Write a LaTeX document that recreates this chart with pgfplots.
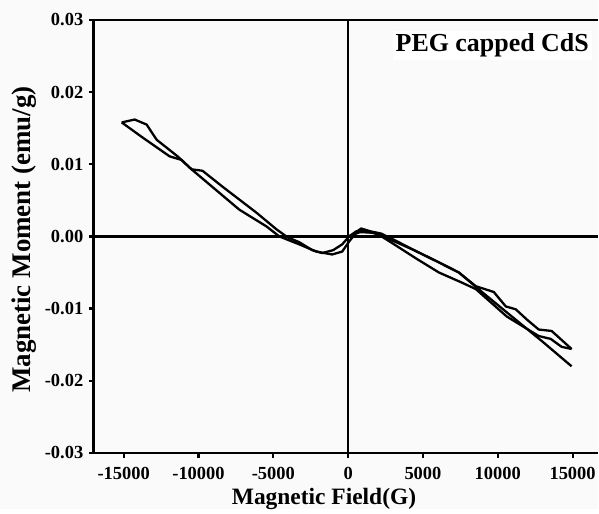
\documentclass[border=0pt]{standalone}
\usepackage{fontspec}
\setmainfont{Liberation Serif}
\usepackage{pgfplots}
\pgfplotsset{compat=1.18}
\begin{document}
\begin{tikzpicture}
\fill[black!2] (-94pt,-56pt) rectangle (505pt,454pt);
\begin{axis}[
  at={(0,0)}, anchor=south west,
  scale only axis, width=505pt, height=434pt,
  xmin=-17000, xmax=16667, ymin=-0.03, ymax=0.03,
  axis x line*=box, axis y line*=left,
  scaled x ticks=false, scaled y ticks=false,
  xtick={-15000,-10000,-5000,0,5000,10000,15000},
  xticklabels={-15000,-10000,-5000,0,5000,10000,15000},
  ytick={-0.03,-0.02,-0.01,0,0.01,0.02,0.03},
  yticklabels={-0.03,-0.02,-0.01,0.00,0.01,0.02,0.03},
  xtick pos=bottom, ytick pos=left,
  tick align=outside, major tick length=5pt,
  axis line style={line width=2.6pt},
  every tick/.style={line width=2.2pt, black},
  tick label style={font=\fontsize{18.5}{20}\selectfont\bfseries},
  xticklabel style={yshift=-6pt},
  yticklabel style={xshift=-2pt},
  xlabel={Magnetic Field(G)},
  ylabel={Magnetic Moment (emu/g)},
  xlabel style={at={(axis description cs:0.457,0)}, anchor=base, yshift=-52pt, font=\fontsize{23.5}{26}\selectfont\bfseries},
  ylabel style={at={(axis description cs:-0.1248,0.493)}, anchor=base, font=\fontsize{27}{29}\selectfont\bfseries},
  clip=false,
]
\addplot[black, line width=2.3pt] coordinates {(-17000,0) (16667,0)};
\addplot[black, line width=2.3pt] coordinates {(0,-0.03) (0,0.03)};
% initial branch
\addplot[black, line width=2.3pt, line join=round] coordinates {
(0,0) (800,0.0006) (1800,0.0005) (3000,-0.0006) (4500,-0.0020) (6067,-0.0036)
(7400,-0.0050) (9000,-0.0078) (11000,-0.0112) (13000,-0.0146) (14933,-0.0180)};
% branch P
\addplot[black, line width=2.3pt, line join=round] coordinates {
(-15133,0.0158) (-14267,0.0162) (-13467,0.0155) (-12800,0.0134) (-11400,0.0111)
(-10467,0.0093) (-9267,0.0072) (-7267,0.0037) (-5467,0.0014) (-4600,0.0000)
(-3267,-0.0011) (-2133,-0.0021) (-1067,-0.0025) (-400,-0.0021) (67,-0.0007)
(600,0.0007) (867,0.0011) (1500,0.0007) (2200,0.0004) (3000,-0.0004)
(4500,-0.0020) (6067,-0.0036) (7400,-0.0050) (8533,-0.0069) (9733,-0.0077)
(10533,-0.0097) (11200,-0.0101) (11933,-0.0115) (12733,-0.0129) (13600,-0.0131)
(14933,-0.0156)};
% branch Q
\addplot[black, line width=2.3pt, line join=round] coordinates {
(-15133,0.0158) (-13800,0.0138) (-11933,0.0111) (-11133,0.0106) (-10467,0.0093)
(-9733,0.0091) (-8400,0.0069) (-6133,0.0033) (-4800,0.0010) (-4067,-0.0001)
(-3267,-0.0008) (-2400,-0.0019) (-1733,-0.0023) (-1000,-0.0019) (-400,-0.0011)
(67,0.0000) (533,0.0007) (1200,0.0007) (2000,0.0003) (3000,-0.0010)
(4500,-0.0030) (6067,-0.0050) (7600,-0.0064) (8533,-0.0073) (10600,-0.0111)
(12733,-0.0138) (13533,-0.0142) (14267,-0.0153) (14933,-0.0156)};
\node[anchor=base, font=\fontsize{26}{28}\selectfont\bfseries, fill=white, inner sep=3pt] at (rel axis cs:0.791,1) [yshift=-32pt] {PEG capped CdS};
\end{axis}
\end{tikzpicture}
\end{document}
